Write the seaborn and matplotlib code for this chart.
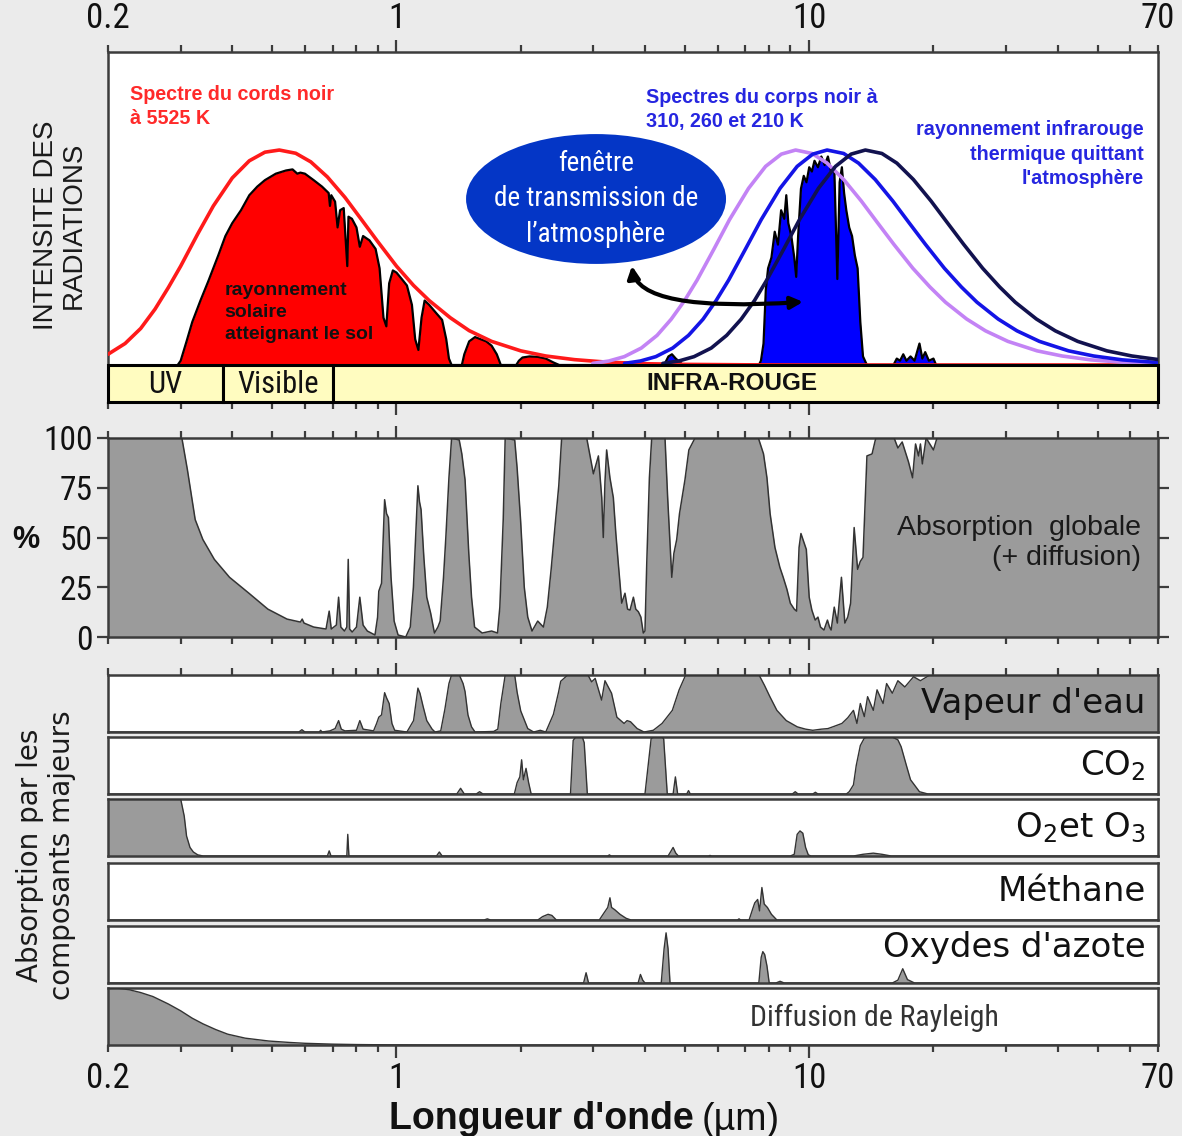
import matplotlib
matplotlib.use("Agg")
import matplotlib.pyplot as plt
import seaborn as sns
from matplotlib import font_manager as fm
from matplotlib.patches import Ellipse, FancyArrowPatch, Rectangle
from matplotlib.path import Path
from matplotlib.ticker import FixedLocator, FixedFormatter, FuncFormatter

# ---------------------------------------------------------------- data
# Blackbody curve of the Sun (5525 K), relative intensity
SUN_UM = [0.2, 0.22, 0.24, 0.26, 0.28, 0.30, 0.33, 0.36, 0.40, 0.44, 0.48, 0.52, 0.57,
          0.62, 0.68, 0.75, 0.82, 0.90, 1.0, 1.1, 1.2, 1.35, 1.5, 1.7, 2.0, 2.3, 2.7,
          3.2, 4.0, 5.0, 7.0, 10.0, 70.0]
SUN_I = [0.05, 0.10, 0.17, 0.26, 0.36, 0.46, 0.61, 0.74, 0.87, 0.95, 0.99, 1.0, 0.985,
         0.945, 0.875, 0.78, 0.68, 0.575, 0.46, 0.37, 0.30, 0.22, 0.16, 0.11, 0.066, 0.042,
         0.025, 0.014, 0.006, 0.003, 0.001, 0.0, 0.0]

# Solar radiation reaching the ground
GROUND = [(0.295, 0), (0.30, 0.02), (0.31, 0.11), (0.32, 0.2), (0.335, 0.3), (0.35, 0.39),
          (0.37, 0.51), (0.385, 0.6), (0.40, 0.66), (0.42, 0.72), (0.44, 0.79), (0.46, 0.83),
          (0.48, 0.86), (0.51, 0.89), (0.54, 0.905), (0.56, 0.91), (0.575, 0.89), (0.585, 0.895),
          (0.60, 0.89), (0.63, 0.86), (0.66, 0.83), (0.685, 0.80), (0.69, 0.74), (0.695, 0.79),
          (0.71, 0.76), (0.72, 0.64), (0.73, 0.72), (0.745, 0.73), (0.76, 0.46), (0.765, 0.69),
          (0.78, 0.68), (0.80, 0.64), (0.815, 0.55), (0.83, 0.60), (0.86, 0.58), (0.89, 0.54),
          (0.91, 0.45), (0.93, 0.22), (0.945, 0.18), (0.96, 0.38), (0.98, 0.44), (1.0, 0.43),
          (1.03, 0.40), (1.06, 0.37), (1.09, 0.28), (1.11, 0.12), (1.13, 0.07), (1.15, 0.22),
          (1.17, 0.30), (1.2, 0.28), (1.25, 0.24), (1.29, 0.21), (1.32, 0.12), (1.34, 0.03),
          (1.36, 0), (1.44, 0), (1.46, 0.05), (1.5, 0.11), (1.55, 0.13), (1.6, 0.12),
          (1.65, 0.11), (1.7, 0.09), (1.75, 0.05), (1.79, 0), (1.95, 0), (1.98, 0.02),
          (2.02, 0.035), (2.1, 0.04), (2.2, 0.038), (2.3, 0.03), (2.4, 0.012), (2.48, 0),
          (3.4, 0), (3.5, 0.006), (3.7, 0.008), (3.9, 0.007), (4.1, 0), (70, 0)]

# Thermal infrared leaving the atmosphere
IR_OUT = [(4.45, 0), (4.56, 0.04), (4.65, 0.05), (4.75, 0.03), (4.95, 0), (7.55, 0),
          (7.64, 0.02), (7.75, 0.1), (7.85, 0.35), (7.95, 0.45), (8.1, 0.5), (8.25, 0.62),
          (8.4, 0.56), (8.55, 0.72), (8.7, 0.68), (8.8, 0.79), (8.9, 0.66), (9.05, 0.6),
          (9.2, 0.5), (9.3, 0.41), (9.4, 0.6), (9.55, 0.82), (9.7, 0.88), (9.85, 0.85),
          (10.0, 0.92), (10.15, 0.9), (10.3, 0.95), (10.5, 0.92), (10.7, 0.97), (10.9, 0.93),
          (11.1, 0.97), (11.3, 0.9), (11.5, 0.92), (11.7, 0.40), (11.85, 0.85), (12.0, 0.92),
          (12.15, 0.8), (12.3, 0.72), (12.5, 0.64), (12.7, 0.6), (12.9, 0.51), (13.1, 0.45),
          (13.3, 0.2), (13.5, 0.04), (13.8, 0), (16.0, 0), (16.3, 0.03), (16.6, 0.02),
          (16.9, 0.05), (17.2, 0.02), (17.6, 0.04), (18.0, 0.02), (18.5, 0.1), (18.8, 0.03),
          (19.1, 0.06), (19.5, 0.02), (20.0, 0.03), (20.3, 0), (70, 0)]

# Blackbody curves at 310, 260 and 210 K (same relative shape)
EARTH_I = [0.0077, 0.0187, 0.039, 0.079, 0.138, 0.213, 0.300, 0.395, 0.540, 0.676, 0.822,
           0.924, 0.981, 1.0, 0.984, 0.939, 0.863, 0.763, 0.664, 0.561, 0.450, 0.363, 0.292,
           0.214, 0.159, 0.110, 0.066, 0.042, 0.024, 0.0134, 0.006]
T310_UM = [2.99, 3.27, 3.565, 3.92, 4.28, 4.63, 4.99, 5.35, 5.88, 6.41, 7.13, 7.84, 8.56,
           9.27, 10.16, 11.05, 12.12, 13.37, 14.61, 16.04, 17.83, 19.61, 21.39, 24.07, 26.74,
           30.30, 35.65, 41.0, 48.13, 57.04, 71.3]
T260_UM = [3.57, 3.90, 4.25, 4.67, 5.10, 5.53, 5.95, 6.38, 7.01, 7.65, 8.50, 9.35, 10.20,
           11.05, 12.12, 13.17, 14.45, 15.94, 17.42, 19.13, 21.26, 23.37, 25.50, 28.69, 31.88,
           36.12, 42.50, 48.88, 57.38, 68.0, 85.0]
T210_UM = [4.42, 4.83, 5.26, 5.79, 6.31, 6.84, 7.37, 7.89, 8.68, 9.47, 10.53, 11.58, 12.63,
           13.68, 15.0, 16.31, 17.88, 19.73, 21.57, 23.68, 26.32, 28.94, 31.57, 35.52, 39.47,
           44.73, 52.62, 60.51, 71.0, 84.2, 105.2]

BAND_EDGES = [0.2, 0.38, 0.70, 70]
BAND_NAMES = ["UV", "Visible", "INFRA-ROUGE"]

# Total atmospheric absorption (+ scattering), %
ABSORB_UM = [0.2, 0.302, 0.3115, 0.3253, 0.3395, 0.362, 0.394, 0.439, 0.488, 0.543,
             0.585, 0.591, 0.597, 0.63, 0.675, 0.687, 0.695, 0.715, 0.724, 0.733,
             0.748, 0.758, 0.764, 0.77, 0.781, 0.80, 0.815, 0.83, 0.85, 0.887,
             0.9, 0.906, 0.92, 0.936, 0.946, 0.956, 0.97, 0.987, 1.009, 1.053,
             1.08, 1.099, 1.127, 1.137, 1.147, 1.165, 1.184, 1.21, 1.236, 1.26,
             1.276, 1.3, 1.317, 1.34, 1.36, 1.419, 1.44, 1.466, 1.497, 1.52,
             1.546, 1.613, 1.7, 1.757, 1.78, 1.814, 1.834, 1.934, 1.96, 1.998,
             2.04, 2.08, 2.13, 2.199, 2.27, 2.32, 2.37, 2.42, 2.473, 2.513,
             2.89, 2.944, 3.0, 3.085, 3.143, 3.17, 3.2, 3.23, 3.29, 3.353,
             3.4, 3.447, 3.513, 3.578, 3.63, 3.68, 3.75, 3.8, 3.855, 3.91,
             3.963, 4.0, 4.04, 4.1, 4.153, 4.473, 4.54, 4.645, 4.7, 4.775,
             4.85, 5.0, 5.11, 5.289, 7.53, 7.75, 7.9, 8.04, 8.26, 8.49,
             8.65, 8.83, 9.0, 9.2, 9.32, 9.45, 9.55, 9.84, 10.0, 10.15,
             10.34, 10.5, 10.65, 10.86, 11.07, 11.2, 11.3, 11.5, 11.7, 11.97,
             12.2, 12.4, 12.6, 12.85, 13.1, 13.3, 13.5, 13.8, 14.2, 14.5,
             16.06, 16.4, 16.8, 17.4, 17.8, 18.1, 18.4, 18.6, 18.8, 19.2,
             20.0, 20.4, 70.0]
ABSORB_PCT = [100, 100, 84, 59, 49, 39, 30, 22, 14, 9,
              7.5, 9, 7, 5, 4, 13, 4, 6, 20, 5,
              3, 5, 39, 4, 2.5, 5, 20, 6, 3, 1,
              10, 23, 27, 69, 62, 60, 30, 8, 1, 0,
              5, 25, 76, 68, 64, 40, 20, 12, 2, 5,
              8, 30, 50, 80, 100, 99, 92, 79, 42, 20,
              5, 2, 3, 2, 15, 59, 100, 99, 85, 59,
              25, 10, 3, 8, 5, 15, 34, 55, 76, 100,
              100, 91, 82, 91, 70, 50, 78, 94, 80, 70,
              52, 37, 17, 22, 14, 13.5, 20, 14, 12.7, 10,
              2, 3, 37, 80, 100, 100, 70, 30, 42, 49,
              62, 79, 94, 100, 100, 92, 80, 62, 45, 35,
              30, 24, 17, 14, 13, 45, 52, 44, 20, 13.5,
              8.5, 10, 5, 3.5, 8.5, 5, 3.5, 15, 7, 30,
              7, 10, 17, 55, 34, 38, 40, 91, 92, 100,
              100, 95, 98, 88, 80, 97, 91, 97, 87, 100,
              94, 100, 100]

# Absorption by the main constituents (fraction)
WATER = [(0.2, 0), (0.58, 0), (0.59, 0.04), (0.6, 0), (0.65, 0), (0.655, 0.03), (0.66, 0),
         (0.69, 0.02), (0.71, 0.06), (0.724, 0.2), (0.735, 0.05), (0.75, 0.02), (0.8, 0.03),
         (0.815, 0.2), (0.83, 0.05), (0.88, 0.02), (0.895, 0.15), (0.906, 0.26), (0.92, 0.3),
         (0.936, 0.69), (0.946, 0.6), (0.96, 0.5), (0.975, 0.15), (0.99, 0.03), (1.06, 0.0),
         (1.1, 0.2), (1.127, 0.77), (1.14, 0.68), (1.16, 0.45), (1.184, 0.2), (1.22, 0.05),
         (1.24, 0.0), (1.28, 0.02), (1.31, 0.4), (1.34, 0.85), (1.36, 1.0), (1.42, 1.0),
         (1.45, 0.85), (1.466, 0.71), (1.49, 0.3), (1.52, 0.09), (1.55, 0.0), (1.72, 0.01),
         (1.76, 0.05), (1.79, 0.5), (1.834, 1.0), (1.934, 1.0), (1.96, 0.7), (2.0, 0.37),
         (2.08, 0.06), (2.15, 0.0), (2.23, 0.03), (2.3, 0.0), (2.4, 0.31), (2.47, 0.7),
         (2.5, 0.89), (2.6, 1.0), (2.91, 1.0), (2.97, 0.88), (3.03, 0.94), (3.14, 0.56),
         (3.2, 0.9), (3.32, 0.68), (3.42, 0.26), (3.56, 0.15), (3.62, 0.2), (3.69, 0.18),
         (3.83, 0.06), (3.98, 0.0), (4.19, 0.03), (4.4, 0.15), (4.66, 0.38), (4.84, 0.74),
         (5.02, 1.0), (7.56, 1.0), (7.79, 0.82), (8.03, 0.62), (8.35, 0.38), (8.8, 0.2),
         (9.36, 0.09), (9.8, 0.05), (10.2, 0.03), (10.7, 0.05), (11.1, 0.06), (11.5, 0.1),
         (12.0, 0.15), (12.4, 0.25), (12.8, 0.38), (13.05, 0.15), (13.3, 0.5), (13.6, 0.27),
         (13.85, 0.62), (14.3, 0.38), (14.6, 0.74), (15.1, 0.5), (15.4, 0.85), (15.9, 0.68),
         (16.4, 0.9), (17.05, 0.79), (17.9, 0.97), (18.6, 0.9), (19.6, 1.0), (70, 1.0)]
CO2 = [(0.2, 0), (1.40, 0), (1.43, 0.1), (1.46, 0), (1.56, 0), (1.59, 0.04), (1.62, 0),
       (1.93, 0), (1.96, 0.2), (1.99, 0.3), (2.01, 0.6), (2.03, 0.25), (2.06, 0.45),
       (2.09, 0.2), (2.12, 0), (2.64, 0), (2.68, 0.94), (2.72, 1.0), (2.82, 1.0), (2.85, 0.9),
       (2.9, 0), (4.0, 0), (4.14, 0.97), (4.2, 1.0), (4.4, 1.0), (4.44, 0.97), (4.53, 0),
       (4.68, 0), (4.74, 0.3), (4.8, 0), (5.05, 0), (5.1, 0.06), (5.15, 0), (9.1, 0),
       (9.25, 0.04), (9.4, 0), (10.2, 0), (10.35, 0.03), (10.5, 0), (12.3, 0), (12.5, 0.04),
       (12.8, 0.16), (13.0, 0.5), (13.3, 0.85), (13.6, 0.98), (13.85, 1.0), (15.9, 1.0),
       (16.4, 0.95), (16.7, 0.83), (17.2, 0.5), (17.6, 0.25), (18.5, 0.04), (19.4, 0), (70, 0)]
OXYGEN_OZONE = [(0.2, 1.0), (0.3, 1.0), (0.303, 0.85), (0.306, 0.7), (0.31, 0.35),
                (0.316, 0.15), (0.322, 0.07), (0.33, 0.02), (0.34, 0), (0.68, 0),
                (0.687, 0.09), (0.694, 0), (0.758, 0), (0.762, 0.38), (0.767, 0), (1.25, 0),
                (1.27, 0.07), (1.29, 0), (3.25, 0), (3.28, 0.02), (3.31, 0), (4.55, 0),
                (4.62, 0.08), (4.68, 0.15), (4.75, 0.05), (4.82, 0), (5.7, 0), (5.75, 0.01),
                (5.8, 0), (9.0, 0), (9.2, 0.03), (9.35, 0.38), (9.5, 0.44), (9.65, 0.4),
                (9.8, 0.15), (9.95, 0.02), (10.1, 0), (12.8, 0), (13.5, 0.03), (14.3, 0.05),
                (15.0, 0.03), (15.8, 0), (70, 0)]
METHANE = [(0.2, 0), (1.63, 0), (1.66, 0.02), (1.69, 0), (2.2, 0), (2.26, 0.06), (2.33, 0.1),
           (2.38, 0.08), (2.44, 0), (3.1, 0), (3.18, 0.12), (3.25, 0.22), (3.29, 0.39),
           (3.32, 0.22), (3.38, 0.18), (3.48, 0.1), (3.6, 0.03), (3.7, 0), (6.7, 0),
           (6.76, 0.02), (6.82, 0), (7.15, 0), (7.3, 0.2), (7.38, 0.3), (7.5, 0.36),
           (7.58, 0.16), (7.68, 0.57), (7.78, 0.28), (7.92, 0.22), (8.1, 0.1), (8.35, 0), (70, 0)]
NITROUS = [(0.2, 0), (2.84, 0), (2.88, 0.18), (2.92, 0), (3.85, 0), (3.9, 0.15), (3.95, 0.05),
           (4.0, 0), (4.38, 0), (4.45, 0.6), (4.5, 0.88), (4.55, 0.6), (4.6, 0), (7.55, 0),
           (7.65, 0.45), (7.72, 0.55), (7.8, 0.5), (7.9, 0.3), (8.0, 0), (8.3, 0), (8.5, 0.03),
           (8.7, 0), (15.9, 0), (16.4, 0.05), (16.85, 0.25), (17.3, 0.06), (18.0, 0), (70, 0)]
RAYLEIGH = [(0.2, 0.99), (0.21, 1.0), (0.225, 0.97), (0.24, 0.92), (0.257, 0.85), (0.28, 0.72),
            (0.3, 0.6), (0.32, 0.47), (0.34, 0.37), (0.365, 0.27), (0.39, 0.19), (0.43, 0.12),
            (0.49, 0.07), (0.55, 0.045), (0.6, 0.03), (0.7, 0.015), (0.8, 0.008),
            (0.95, 0.003), (1.2, 0), (70, 0)]

ROW_NAMES = ["Vapeur d'eau", "CO$_2$", "O$_2$et O$_3$", "Méthane", "Oxydes d'azote",
             "Diffusion de Rayleigh"]
ROW_DATA = [WATER, CO2, OXYGEN_OZONE, METHANE, NITROUS, RAYLEIGH]

X_MINOR = [0.2, 0.3, 0.4, 0.5, 0.6, 0.7, 0.8, 0.9, 2, 3, 4, 5, 6, 7, 8, 9,
           20, 30, 40, 50, 60, 70]

# ---------------------------------------------------------------- style
sns.set_theme(style="ticks")
names = {f.name for f in fm.fontManager.ttflist}
NARROW = "Liberation Sans"
for cand in ["Liberation Sans Narrow", "Roboto Condensed", "Open Sans Condensed",
             "DejaVu Sans Condensed"]:
    if cand in names:
        NARROW = cand
        break
plt.rcParams["font.family"] = ["Liberation Sans", "DejaVu Sans"]
plt.rcParams["mathtext.fontset"] = "dejavusans"

BG = "#ebebeb"
FRAME = "#3c3c3c"
GREY = "#9b9b9b"
W, H = 1182, 1136

fig = plt.figure(figsize=(W / 100, H / 100), dpi=100, facecolor=BG)


def box(x0, y0, x1, y1):
    return [x0 / W, 1 - y1 / H, (x1 - x0) / W, (y1 - y0) / H]


def edge_label(v, pos):
    if abs(v - 0.2) < 1e-6:
        return "0.2"
    if abs(v - 70) < 1e-6:
        return "70"
    return ""


def style_x(ax, top=False, bottom=False, labeltop=False, labelbottom=False):
    ax.set_xscale("log")
    ax.set_xlim(0.2, 70)
    ax.xaxis.set_major_locator(FixedLocator([1, 10]))
    ax.xaxis.set_major_formatter(FixedFormatter(["1", "10"]))
    ax.xaxis.set_minor_locator(FixedLocator(X_MINOR))
    ax.xaxis.set_minor_formatter(FuncFormatter(edge_label))
    ax.tick_params(axis="x", which="both", direction="out", top=top, bottom=bottom,
                   labeltop=labeltop, labelbottom=labelbottom, colors=FRAME,
                   labelcolor="#111111", labelsize=25, width=1.6)
    ax.tick_params(axis="x", which="major", length=9, pad=3)
    ax.tick_params(axis="x", which="minor", length=5, pad=7)
    for lab in ax.get_xticklabels(which="both"):
        lab.set_family(NARROW)
    for s in ax.spines.values():
        s.set_visible(True)
        s.set_color(FRAME)
        s.set_linewidth(1.8)
    ax.set_facecolor("white")


def unzip(pairs):
    return [p[0] for p in pairs], [p[1] for p in pairs]


# ---------------------------------------------------------------- top panel
ax1 = fig.add_axes(box(108, 52, 1158, 402))
style_x(ax1, top=True, bottom=True, labeltop=True)
ax1.set_ylim(-0.172, 1.456)
ax1.set_yticks([])

gx, gy = unzip(GROUND)
ax1.fill_between(gx, 0, gy, color="#ff0000", lw=0, zorder=2)
ax1.plot(gx, gy, color="black", lw=1.6, zorder=3)
ix, iy = unzip(IR_OUT)
ax1.fill_between(ix, 0, iy, color="#0000ff", lw=0, zorder=2)
ax1.plot(ix, iy, color="black", lw=1.6, zorder=3)

sns.lineplot(x=SUN_UM, y=SUN_I, ax=ax1, color="#ff1a1a", lw=2.6, sort=False,
             estimator=None, legend=False, zorder=4)
for um, col in [(T310_UM, "#c383f5"), (T260_UM, "#1414e6"), (T210_UM, "#12124f")]:
    sns.lineplot(x=um, y=EARTH_I, ax=ax1, color=col, lw=2.6, sort=False,
                 estimator=None, legend=False, zorder=4)

# spectral bands bar
bar_bottom = ax1.get_ylim()[0]
for (a, b), name in zip(zip(BAND_EDGES[:-1], BAND_EDGES[1:]), BAND_NAMES):
    ax1.add_patch(Rectangle((a, bar_bottom), b - a, -bar_bottom, fc="#fffcc0",
                            ec="black", lw=2.2, zorder=5, clip_on=False))
    xc = (a * b) ** 0.5
    if name == "INFRA-ROUGE":
        ax1.text(6.5, bar_bottom / 2, name, ha="center", va="center", fontsize=17.5,
                 fontweight="bold", color="#111111", zorder=6)
    else:
        ax1.text(xc, bar_bottom / 2 - 0.005, name, ha="center", va="center", fontsize=22,
                 family=NARROW, color="#111111", zorder=6)

ax1.text(0.021, 0.905, "Spectre du cords noir\nà 5525 K", transform=ax1.transAxes,
         ha="left", va="top", color="#ff2a2a", fontsize=14.2, fontweight="bold",
         linespacing=1.35)
ax1.text(0.512, 0.898, "Spectres du corps noir à\n310, 260 et 210 K",
         transform=ax1.transAxes, ha="left", va="top", color="#2626e0", fontsize=14.2,
         fontweight="bold", linespacing=1.35)
ax1.text(0.986, 0.806, "rayonnement infrarouge\nthermique quittant\nl'atmosphère",
         transform=ax1.transAxes, ha="right", va="top", color="#2626e0", fontsize=14.2,
         fontweight="bold", linespacing=1.38, multialignment="right")
ax1.text(0.111, 0.342, "rayonnement\nsolaire\natteignant le sol", transform=ax1.transAxes,
         ha="left", va="top", color="#111111", fontsize=14, fontweight="bold",
         linespacing=1.38, zorder=6)

ax1.add_patch(Ellipse((0.4648, 0.58), 0.2476, 0.371, transform=ax1.transAxes,
                      fc="#0436c6", ec="none", zorder=7))
ax1.text(0.4648, 0.58, "fenêtre\nde transmission de\nl’atmosphère", transform=ax1.transAxes,
         ha="center", va="center", color="white", fontsize=19.5, family=NARROW,
         linespacing=1.42, zorder=8)
arrow_path = Path([(0.499, 0.389), (0.505, 0.255), (0.662, 0.286)],
                  [Path.MOVETO, Path.CURVE3, Path.CURVE3])
ax1.add_patch(FancyArrowPatch(path=arrow_path, transform=ax1.transAxes,
                              arrowstyle="<|-|>", mutation_scale=18, lw=3,
                              color="black", zorder=8))

# ---------------------------------------------------------------- global absorption
ax2 = fig.add_axes(box(108, 438, 1158, 637))
style_x(ax2, top=True, bottom=True)
ax2.set_ylim(0, 100)
ax2.fill_between(ABSORB_UM, 0, ABSORB_PCT, color=GREY, lw=0, zorder=2)
sns.lineplot(x=ABSORB_UM, y=ABSORB_PCT, ax=ax2, color="#333333", lw=1.1, sort=False,
             estimator=None, legend=False, zorder=3)
ax2.set_yticks([0, 25, 50, 75, 100])
ax2.tick_params(axis="y", which="both", left=True, right=True, direction="out",
                length=8, width=1.6, colors=FRAME, labelcolor="#111111",
                labelsize=24, pad=3)
for lab in ax2.get_yticklabels():
    lab.set_family(NARROW)
ax2.set_xlabel("")
ax2.set_ylabel("")
ax2.text(0.984, 0.47, "Absorption  globale\n(+ diffusion)", transform=ax2.transAxes,
         ha="right", va="center", fontsize=20.5, color="#1a1a1a", linespacing=1.2,
         multialignment="right")

# ---------------------------------------------------------------- constituents
row_tops = [675, 737, 799, 863, 926, 988]
row_h = 57
label_y = [0.5, 0.5, 0.5, 0.5, 0.62, 0.48]
for i, (name, pairs) in enumerate(zip(ROW_NAMES, ROW_DATA)):
    t = row_tops[i]
    ax = fig.add_axes(box(108, t, 1158, t + row_h))
    last = i == len(ROW_NAMES) - 1
    style_x(ax, top=(i == 0), bottom=last, labelbottom=last)
    ax.set_ylim(0, 1.0)
    ax.set_yticks([])
    rx, ry = unzip(pairs)
    ax.fill_between(rx, 0, ry, color=GREY, lw=0, zorder=2)
    sns.lineplot(x=rx, y=ry, ax=ax, color="#333333", lw=1.0, sort=False,
                 estimator=None, legend=False, zorder=3)
    ax.set_xlabel("")
    ax.set_ylabel("")
    if last:
        ax.text(0.73, label_y[i], name, transform=ax.transAxes, ha="center", va="center",
                fontsize=21.5, family=NARROW, color="#333333")
    else:
        ax.text(0.988, label_y[i], name, transform=ax.transAxes, ha="right", va="center",
                fontsize=24.5, family="DejaVu Sans", color="#111111", zorder=5)

# ---------------------------------------------------------------- axis titles
fig.text(60 / W, 1 - 225 / H, "INTENSITE DES\nRADIATIONS", rotation=90, ha="center",
         va="center", fontsize=20, color="#1a1a1a", linespacing=1.1)
fig.text(26 / W, 1 - 540 / H, "%", ha="center", va="center", fontsize=22,
         fontweight="bold", color="#111111")
fig.text(46 / W, 1 - 855 / H, "Absorption par les\ncomposants majeurs", rotation=90,
         ha="center", va="center", fontsize=20, family="DejaVu Sans", color="#1a1a1a",
         linespacing=1.15)
fig.text(694 / W, 1 - 1119 / H, "Longueur d'onde", ha="right", va="center", fontsize=27,
         fontweight="bold", family="Liberation Sans", color="#111111")
fig.text(702 / W, 1 - 1120 / H, "(µm)", ha="left", va="center", fontsize=27,
         family="Liberation Sans", color="#111111")

fig.savefig("out.png", dpi=100, facecolor=BG)
